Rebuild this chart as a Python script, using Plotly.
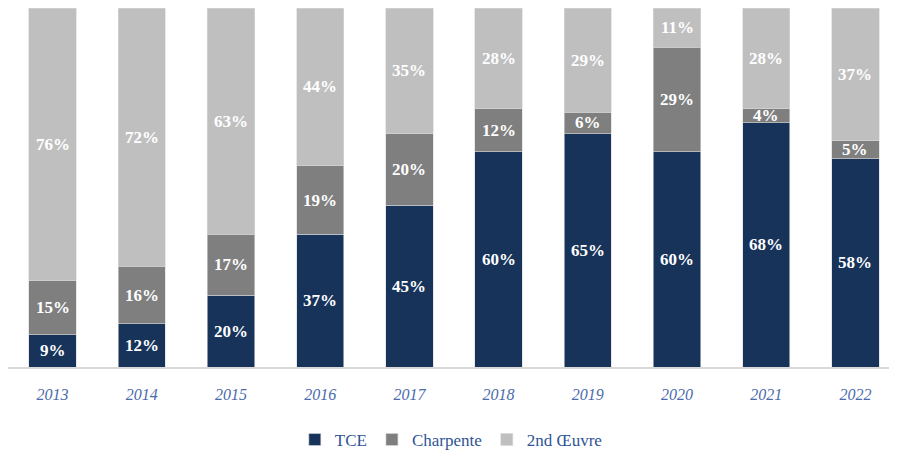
import plotly.graph_objects as go

years = ["2013", "2014", "2015", "2016", "2017", "2018", "2019", "2020", "2021", "2022"]
tce = [9, 12, 20, 37, 45, 60, 65, 60, 68, 58]
charpente = [15, 16, 17, 19, 20, 12, 6, 29, 4, 5]
second_oeuvre = [76, 72, 63, 44, 35, 28, 29, 11, 28, 37]

series = [
    ("TCE", tce, "#17335A"),
    ("Charpente", charpente, "#7F7F7F"),
    ("2nd Œuvre", second_oeuvre, "#BFBFBF"),
]

fig = go.Figure()
annotations = []
base = [0] * len(years)
for name, vals, color in series:
    fig.add_trace(go.Bar(
        x=years, y=vals, name=name,
        marker=dict(color=color, line=dict(color="#D9D9D9", width=0.6)),
        hoverinfo="x+y+name",
    ))
    for i, v in enumerate(vals):
        annotations.append(dict(
            x=i, y=base[i] + v / 2, text=f"<b>{v}%</b>",
            showarrow=False, xref="x", yref="y",
            font=dict(family="Liberation Serif", size=17, color="white"),
        ))
        base[i] += v

fig.update_layout(
    barmode="stack",
    bargap=0.47,
    width=892, height=450,
    margin=dict(l=0, r=0, t=0, b=90),
    plot_bgcolor="white", paper_bgcolor="white",
    annotations=annotations,
    showlegend=True,
    legend=dict(
        orientation="h", x=0.497, xanchor="center", y=-0.205, yanchor="middle",
        font=dict(family="Liberation Serif", size=17, color="#2F5496"),
        itemwidth=30, traceorder="normal",
    ),
    xaxis=dict(
        type="category", range=[-0.5, len(years) - 0.5],
        showline=True, linecolor="#D9D9D9", linewidth=1.5,
        tickfont=dict(family="Liberation Serif", size=16, color="#4A6AAB", style="italic"),
        ticks="", ticklabelstandoff=12,
    ),
    yaxis=dict(range=[0, 100], visible=False, showgrid=False),
)

fig.write_html("out.html")
